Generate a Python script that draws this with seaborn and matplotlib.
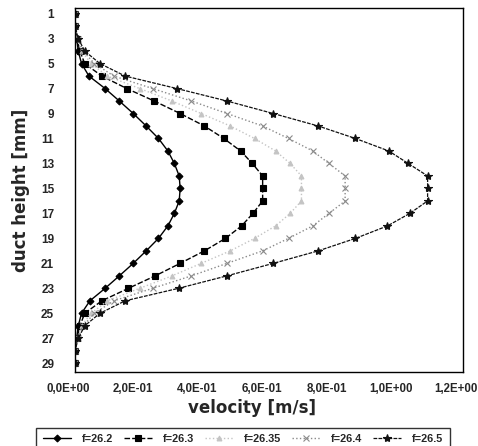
import numpy as np
import pandas as pd
import seaborn as sns
import matplotlib.pyplot as plt
import matplotlib.transforms as mtransforms
from matplotlib.ticker import FuncFormatter

# duct height positions [mm]
height = list(range(1, 30))

# velocity profiles [m/s]
v_262 = [0, 0, 0.005, 0.01, 0.02, 0.043, 0.093, 0.137, 0.18, 0.22, 0.258, 0.287, 0.307, 0.322, 0.325,
         0.322, 0.307, 0.287, 0.258, 0.22, 0.18, 0.137, 0.093, 0.046, 0.02, 0.01, 0.005, 0, 0]
v_263 = [0, 0, 0.006, 0.015, 0.03, 0.083, 0.16, 0.245, 0.325, 0.40, 0.46, 0.512, 0.548, 0.58, 0.58,
         0.58, 0.55, 0.515, 0.465, 0.40, 0.325, 0.248, 0.165, 0.083, 0.03, 0.015, 0.006, 0, 0]
v_2635 = [0, 0, 0.007, 0.02, 0.05, 0.10, 0.20, 0.30, 0.39, 0.48, 0.555, 0.62, 0.665, 0.70, 0.70,
          0.70, 0.665, 0.62, 0.555, 0.48, 0.39, 0.30, 0.20, 0.10, 0.05, 0.02, 0.007, 0, 0]
v_264 = [0, 0, 0.008, 0.025, 0.06, 0.12, 0.24, 0.36, 0.47, 0.58, 0.66, 0.735, 0.785, 0.835, 0.835,
         0.835, 0.785, 0.735, 0.66, 0.58, 0.47, 0.36, 0.24, 0.12, 0.06, 0.025, 0.008, 0, 0]
v_265 = [0, 0, 0.01, 0.03, 0.077, 0.155, 0.315, 0.47, 0.613, 0.752, 0.867, 0.97, 1.03, 1.09, 1.09,
         1.09, 1.035, 0.966, 0.867, 0.752, 0.613, 0.47, 0.32, 0.155, 0.077, 0.03, 0.01, 0, 0]

labels = ['f=26.2', 'f=26.3', 'f=26.35', 'f=26.4', 'f=26.5']
series = [v_262, v_263, v_2635, v_264, v_265]

sns.set_style('white')
plt.rcParams['font.family'] = ['Liberation Sans', 'DejaVu Sans']
plt.rcParams['font.weight'] = 'bold'

fig = plt.figure(figsize=(4.78, 4.46), dpi=100)
ax = fig.add_axes([0.157, 0.166, 0.812, 0.816])

styles = [
    dict(color='black', marker='D', markersize=3.5, linestyle='-', linewidth=1.0),
    dict(color='black', marker='s', markersize=4.5, linestyle=(0, (4, 1.5)), linewidth=1.0),
    dict(color='#c4c4c4', marker='^', markersize=3.5, linestyle=':', linewidth=1.0),
    dict(color='#8a8a8a', marker='x', markersize=4, linestyle=':', linewidth=1.0),
    dict(color='#111111', marker='*', markersize=6, linestyle=(0, (3, 1)), linewidth=0.9),
]

for lab, vals, st in zip(labels, series, styles):
    df = pd.DataFrame({'velocity': vals, 'height': height})
    sns.lineplot(data=df, x='velocity', y='height', ax=ax, sort=False, orient='y',
                 estimator=None, errorbar=None, label=lab, markeredgecolor=st['color'],
                 markeredgewidth=0.8, **st)

ax.set_xlim(0, 1.2)
ax.set_ylim(29.7, 0.55)
ax.set_yticks(range(1, 30, 2))
ax.set_xticks(np.arange(0, 1.21, 0.2))
ax.xaxis.set_major_formatter(FuncFormatter(lambda v, p: ('%.1E' % v).replace('.', ',')))
ax.tick_params(axis='x', length=0, labelsize=8.3, pad=8)
ax.tick_params(axis='y', length=0, labelsize=8.5, pad=15)
shift = mtransforms.ScaledTranslation(-7 / 100, 0, fig.dpi_scale_trans)
for lbl in ax.get_xticklabels():
    lbl.set_transform(lbl.get_transform() + shift)
for lbl in ax.get_xticklabels() + ax.get_yticklabels():
    lbl.set_fontweight('bold')

ax.set_xlabel('velocity [m/s]', fontsize=12, fontweight='bold', family=['DejaVu Sans'])
ax.set_ylabel('duct height [mm]', fontsize=12, fontweight='bold', labelpad=8,
              family=['DejaVu Sans'])
ax.xaxis.set_label_coords(0.456, -0.075)

for sp in ax.spines.values():
    sp.set_color('black')
    sp.set_linewidth(1.0)

leg = ax.legend(loc='upper left', bbox_to_anchor=(-0.1, -0.153), ncol=5, fontsize=7.8,
                frameon=True, fancybox=False, edgecolor='black', handlelength=2.6,
                columnspacing=1.0, handletextpad=1.0, borderaxespad=0, borderpad=0.6)
leg.get_frame().set_linewidth(1.0)

fig.savefig('out.png', dpi=100)
